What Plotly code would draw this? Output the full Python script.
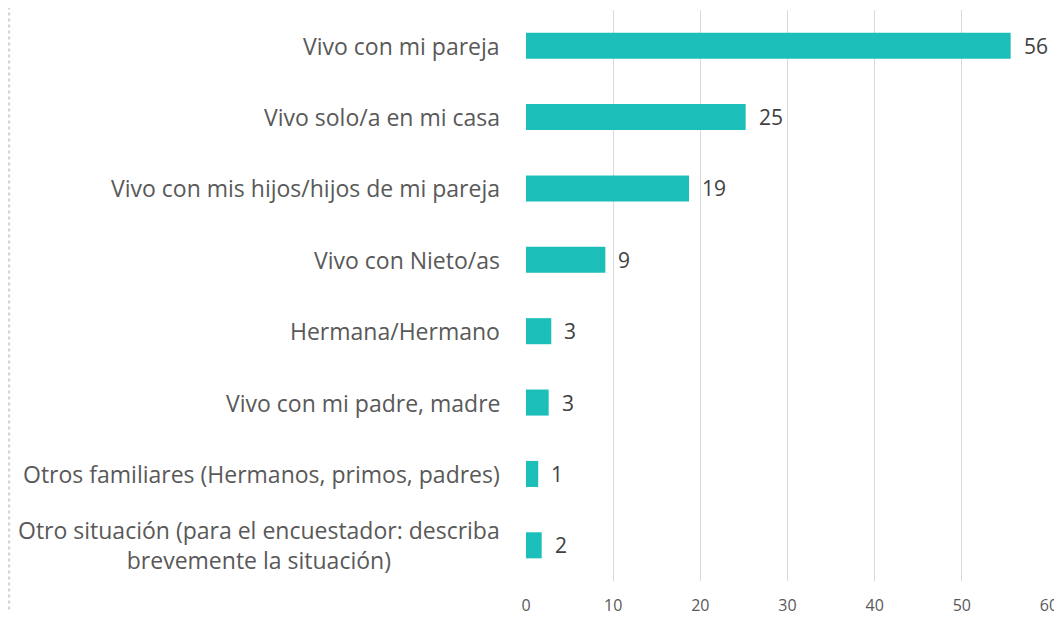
import plotly.graph_objects as go

categories = [
    "Vivo con mi pareja",
    "Vivo solo/a en mi casa",
    "Vivo con mis hijos/hijos de mi pareja",
    "Vivo con Nieto/as",
    "Hermana/Hermano",
    "Vivo con mi padre, madre",
    "Otros familiares (Hermanos, primos, padres)",
    "Otro situación (para el encuestador: describa<br>brevemente la situación)",
]
values = [55.6, 25.2, 18.7, 9.1, 2.9, 2.6, 1.4, 1.8]
labels = ["56", "25", "19", "9", "3", "3", "1", "2"]
tick_vals = [0, 10, 20, 30, 40, 50, 60]

fig = go.Figure()
fig.add_trace(go.Bar(
    x=values, y=categories, orientation="h",
    marker=dict(color="#1CBEB9", line=dict(width=0)),
    width=0.365,
))

for c, v, t in zip(categories, values, labels):
    fig.add_annotation(x=0, y=c, xref="x", yref="y", text=c, showarrow=False,
                       xanchor="right", align="center", xshift=-24,
                       font=dict(family="Open Sans", size=23, color="#595959"))
    fig.add_annotation(x=v, y=c, xref="x", yref="y", text=t, showarrow=False,
                       xanchor="left", xshift=11,
                       font=dict(family="Open Sans", size=21, color="#404040"))

fig.add_shape(type="line", xref="paper", yref="paper", x0=-0.989, x1=-0.989, y0=-0.05, y1=1.01,
              line=dict(color="#d4d4d4", width=3, dash="dot"))

fig.update_layout(
    width=1054, height=610,
    margin=dict(l=518, r=13, t=2, b=37),
    paper_bgcolor="white", plot_bgcolor="white",
    showlegend=False,
    xaxis=dict(range=[0, 60], tickvals=tick_vals, showgrid=True, gridcolor="#d9d9d9", gridwidth=1,
               zeroline=False, showline=False, ticks="", ticklabelstandoff=13,
               ticklabeloverflow="allow",
               tickfont=dict(family="Open Sans", size=16, color="#595959")),
    yaxis=dict(autorange="reversed", showticklabels=False, showgrid=False, zeroline=False,
               showline=False, ticks=""),
)
fig.write_html("out.html")
